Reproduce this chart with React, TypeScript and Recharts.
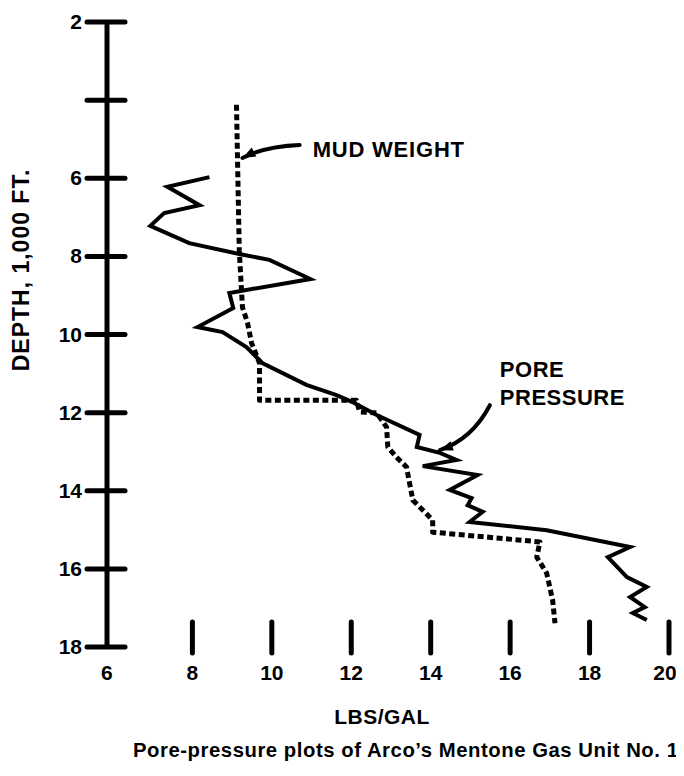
import React from "react";
import { ScatterChart, Scatter, XAxis, YAxis, ReferenceLine } from "recharts";

// ---- data (depth in 1,000 ft, weight in lbs/gal) ----
const poreDepth = [
  5.97, 6.22, 6.69, 6.89, 7.22, 7.66, 7.94, 8.09, 8.58, 8.86, 8.94, 9.32, 9.81, 9.94,
  10.32, 10.73, 11.29, 11.55, 11.73, 12.06, 12.57, 12.88, 13.03, 13.21, 13.37, 13.6,
  13.98, 14.19, 14.37, 14.54, 14.8, 15.01, 15.44, 15.7, 16.21, 16.46, 16.72, 16.98,
  17.13, 17.31,
];
const porePpg = [
  8.43, 7.37, 8.18, 7.29, 6.94, 7.92, 9.18, 9.94, 10.97, 9.36, 8.93, 9.03, 8.13, 8.76,
  9.36, 9.76, 10.87, 11.63, 12.03, 12.64, 13.72, 13.65, 14.23, 14.65, 13.8, 15.18,
  14.48, 15.03, 14.93, 15.31, 14.98, 16.92, 19.02, 18.46, 18.94, 19.44, 19.02, 19.39,
  19.09, 19.44,
];
const mudDepth = [
  4.12, 7.84, 9.3, 9.71, 10.22, 10.73, 11.68, 11.68, 11.98, 12.01, 12.37, 12.88, 13.14,
  13.39, 14.24, 14.75, 15.06, 15.31, 15.7, 16.11, 16.8, 17.39,
];
const mudPpg = [
  9.11, 9.18, 9.26, 9.39, 9.49, 9.69, 9.69, 12.13, 12.21, 12.64, 12.89, 12.92, 13.14,
  13.39, 13.55, 14.05, 14.05, 16.75, 16.67, 16.92, 17.07, 17.13,
];
const xTicks = [6, 8, 10, 12, 14, 16, 18, 20];
const yTicks = [2, 4, 6, 8, 10, 12, 14, 16, 18];
const yTickLabels = ["2", "", "6", "8", "10", "12", "14", "16", "18"];

const mudArrow = { tail: { x: 10.7, y: 5.15 }, tip: { x: 9.26, y: 5.48 } };
const poreArrow = { tail: { x: 15.49, y: 11.81 }, tip: { x: 14.23, y: 12.96 } };

const poreData = poreDepth.map((d, i) => ({ x: porePpg[i], d }));
const mudData = mudDepth.map((d, i) => ({ x: mudPpg[i], d }));

// ---- layout ----
const W = 676;
const H = 756;
const MARGIN = { top: 14, right: 15, left: 39, bottom: 87 };
const Y_AXIS_W = 60;
const X_AXIS_H = 30;
const PLOT_LEFT = MARGIN.left + Y_AXIS_W;
const PLOT_BOTTOM = H - MARGIN.bottom - X_AXIS_H;
const FONT = "'Liberation Sans', Arial, Helvetica, sans-serif";

const YTick = (props: any) => {
  const { y, index } = props;
  const label = yTickLabels[index] ?? "";
  return (
    <g>
      <line x1={PLOT_LEFT - 20} x2={PLOT_LEFT + 18} y1={y} y2={y} stroke="#000" strokeWidth={5} strokeLinecap="round" />
      {label !== "" && (
        <text x={PLOT_LEFT - 25} y={y} dy={7} textAnchor="end" fontFamily={FONT} fontWeight="bold" fontSize={21} fill="#000">
          {label}
        </text>
      )}
    </g>
  );
};

const XTick = (props: any) => {
  const { x, payload } = props;
  const first = payload.value === xTicks[0];
  const last = payload.value === xTicks[xTicks.length - 1];
  const lx = first ? x - 6 : last ? x - 4 : x;
  return (
    <g>
      {!first && (
        <line x1={x} x2={x} y1={PLOT_BOTTOM - 25} y2={PLOT_BOTTOM + 6} stroke="#000" strokeWidth={5} strokeLinecap="round" />
      )}
      <text x={lx} y={PLOT_BOTTOM + 33} textAnchor="middle" fontFamily={FONT} fontWeight="bold" fontSize={21} fill="#000">
        {payload.value}
      </text>
    </g>
  );
};

const arrowHead = (cx: number, cy: number, tx: number, ty: number, len = 13, half = 5) => {
  const dx = tx - cx;
  const dy = ty - cy;
  const L = Math.hypot(dx, dy) || 1;
  const ux = dx / L;
  const uy = dy / L;
  const bx = tx - ux * len;
  const by = ty - uy * len;
  return `M${tx},${ty} L${bx - uy * half},${by + ux * half} L${bx + uy * half},${by - ux * half} Z`;
};

const MudArrow = (props: any) => {
  const { x1, y1, x2, y2 } = props;
  const cx = x1 - (x1 - x2) * 0.6;
  const cy = y1 + (y2 - y1) * 0.1;
  return (
    <g>
      <path d={`M${x1},${y1} Q${cx},${cy} ${x2},${y2}`} fill="none" stroke="#000" strokeWidth={4} strokeLinecap="round" />
      <path d={arrowHead(cx, cy, x2, y2)} fill="#000" />
      <text x={x1 + 13} y={y1 + 12} fontFamily={FONT} fontWeight="bold" fontSize={22} letterSpacing={0.8} fill="#000">
        MUD WEIGHT
      </text>
    </g>
  );
};

const PoreArrow = (props: any) => {
  const { x1, y1, x2, y2 } = props;
  const cx = x1 - (x1 - x2) * 0.35;
  const cy = y1 + (y2 - y1) * 0.75;
  return (
    <g>
      <path d={`M${x1},${y1} Q${cx},${cy} ${x2},${y2}`} fill="none" stroke="#000" strokeWidth={4} strokeLinecap="round" />
      <path d={arrowHead(cx, cy, x2, y2)} fill="#000" />
      <text x={x1 + 10} y={y1 - 28} fontFamily={FONT} fontWeight="bold" fontSize={22} letterSpacing={0.5} fill="#000">
        PORE
      </text>
      <text x={x1 + 10} y={y1} fontFamily={FONT} fontWeight="bold" fontSize={22} letterSpacing={0.5} fill="#000">
        PRESSURE
      </text>
    </g>
  );
};

const NoDot = () => <g />;

export default function App() {
  return (
    <div style={{ position: "relative", width: W, height: H, background: "#fff" }}>
      <ScatterChart width={W} height={H} margin={MARGIN}>
        <XAxis
          type="number"
          dataKey="x"
          domain={[5.85, 20]}
          ticks={xTicks}
          axisLine={false}
          tickLine={false}
          height={X_AXIS_H}
          tick={<XTick />}
          interval={0}
        />
        <YAxis
          type="number"
          dataKey="d"
          domain={[2, 18]}
          ticks={yTicks}
          reversed
          width={Y_AXIS_W}
          axisLine={{ stroke: "#000", strokeWidth: 5 }}
          tickLine={false}
          tick={<YTick />}
          interval={0}
        />
        <Scatter
          data={mudData}
          fill="#000"
          line={{ stroke: "#000", strokeWidth: 5, strokeDasharray: "6 3.5", strokeLinejoin: "round" }}
          lineType="joint"
          shape={NoDot}
          isAnimationActive={false}
        />
        <Scatter
          data={poreData}
          fill="#000"
          line={{ stroke: "#000", strokeWidth: 4, strokeLinejoin: "miter" }}
          lineType="joint"
          shape={NoDot}
          isAnimationActive={false}
        />
        <ReferenceLine segment={[mudArrow.tail, mudArrow.tip]} ifOverflow="visible" shape={MudArrow} />
        <ReferenceLine segment={[poreArrow.tail, poreArrow.tip]} ifOverflow="visible" shape={PoreArrow} />
      </ScatterChart>
      <svg width={W} height={H} style={{ position: "absolute", left: 0, top: 0, pointerEvents: "none" }}>
        <text transform="translate(21,262) rotate(-90)" textAnchor="middle" fontFamily={FONT} fontWeight="bold" fontSize={23} letterSpacing={1} fill="#000">
          DEPTH, 1,000 FT.
        </text>
        <text x={374} y={716} textAnchor="middle" fontFamily={FONT} fontWeight="bold" fontSize={21} letterSpacing={0.5} fill="#000">
          LBS/GAL
        </text>
        <text x={125} y={749} textAnchor="start" fontFamily={FONT} fontWeight="bold" fontSize={20.3} letterSpacing={0.55} fill="#000">
          Pore-pressure plots of Arco’s Mentone Gas Unit No. 1
        </text>
      </svg>
    </div>
  );
}
